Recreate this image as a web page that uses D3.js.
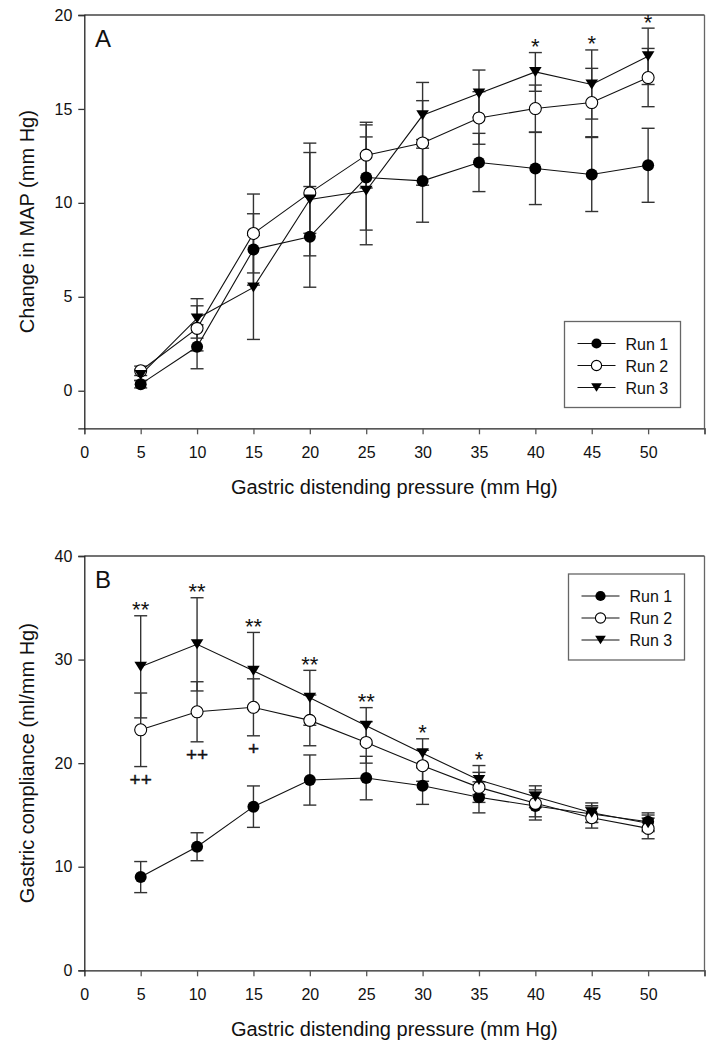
<!doctype html>
<html lang="en">
<head>
    <meta charset="UTF-8">
    <title>Gastric distension</title>
    <script src="https://cdnjs.cloudflare.com/ajax/libs/d3/7.8.5/d3.min.js"></script>
    <style>
        body { margin: 0; background: #fff; }
        svg text { font-family: "Liberation Sans", Arial, sans-serif; fill: #111; }
    </style>
</head>
<body>
<svg id="chart" width="725" height="1048"></svg>

<script>
    // x values shared by both panels
    var pressure = [5, 10, 15, 20, 25, 30, 35, 40, 45, 50];
    var seriesNames = ['Run 1', 'Run 2', 'Run 3'];

    // panel A: change in MAP (mean, SE)
    var map1 = [0.35, 2.34, 7.52, 8.19, 11.35, 11.17, 12.15, 11.83, 11.51, 12.0];
    var map1Err = [0.2, 1.17, 1.9, 2.68, 2.8, 2.2, 1.55, 1.92, 1.97, 1.97];
    var map2 = [1.06, 3.32, 8.37, 10.53, 12.54, 13.19, 14.52, 15.02, 15.34, 16.67];
    var map2Err = [0.25, 1.2, 2.1, 2.15, 1.75, 2.25, 1.4, 1.25, 1.82, 1.55];
    var map3 = [0.84, 3.85, 5.5, 10.18, 10.64, 14.66, 15.82, 16.97, 16.3, 17.8];
    var map3Err = [0.3, 1.05, 2.77, 3.0, 2.87, 1.75, 1.25, 1.03, 1.84, 1.5];
    var mapStars = ['', '', '', '', '', '', '', '*', '*', '*'];
    var mapPlus = ['', '', '', '', '', '', '', '', '', ''];
    var mapTicks = [0, 5, 10, 15, 20];

    // panel B: gastric compliance (mean, SE)
    var comp1 = [9.0, 11.93, 15.8, 18.37, 18.56, 17.82, 16.7, 15.86, 15.09, 14.35];
    var comp1Err = [1.5, 1.35, 2.0, 2.42, 2.1, 1.8, 1.5, 1.35, 0.8, 0.85];
    var comp2 = [23.22, 24.96, 25.39, 24.13, 22.0, 19.75, 17.66, 16.12, 14.73, 13.7];
    var comp2Err = [3.55, 2.9, 2.75, 2.45, 2.0, 1.5, 1.45, 1.3, 1.0, 1.0];
    var comp3 = [29.3, 31.47, 28.92, 26.31, 23.61, 20.95, 18.37, 16.76, 15.21, 14.19];
    var comp3Err = [4.93, 4.5, 3.7, 2.65, 1.75, 1.4, 1.4, 1.05, 0.95, 0.8];
    var compStars = ['**', '**', '**', '**', '**', '*', '*', '', '', ''];
    var compPlus = ['++', '++', '+', '', '', '', '', '', '', ''];
    var compTicks = [0, 10, 20, 30, 40];

    var xTicks = [0, 5, 10, 15, 20, 25, 30, 35, 40, 45, 50, 55];

    var svg = d3.select('#chart');

    var x = d3.scaleLinear().domain([0, 55]).range([84.3, 704.5]);

    function drawPanel(opt) {
        var g = svg.append('g');
        var y = d3.scaleLinear().domain(opt.yDomain).range([opt.bottom, opt.top]);

        // frame (top and right)
        g.append('line').attr('x1', x(0)).attr('x2', x(55)).attr('y1', opt.top).attr('y2', opt.top)
            .attr('stroke', '#444').attr('stroke-width', 1.3);
        g.append('line').attr('x1', x(55)).attr('x2', x(55)).attr('y1', opt.top).attr('y2', opt.bottom)
            .attr('stroke', '#666').attr('stroke-width', 1.3);

        var xAxis = g.append('g')
            .attr('transform', 'translate(0,' + opt.bottom + ')')
            .call(d3.axisBottom(x).tickValues(xTicks).tickSizeOuter(0).tickSize(6).tickPadding(12)
                .tickFormat(function (d) { return d === 55 ? '' : d; }));
        var yAxis = g.append('g')
            .attr('transform', 'translate(' + x(0) + ',0)')
            .call(d3.axisLeft(y).tickValues(opt.yTicks).tickSizeOuter(0).tickSize(6).tickPadding(6));

        [xAxis, yAxis].forEach(function (a) {
            a.selectAll('text').style('font-size', '16px').attr('fill', '#111');
            a.selectAll('line').attr('stroke', '#333').attr('stroke-width', 1.3);
            a.select('.domain').attr('stroke', '#222').attr('stroke-width', 1.3);
        });
        xAxis.selectAll('.tick line').attr('stroke', '#555');

        // titles
        g.append('text')
            .attr('x', 394.3).attr('y', opt.bottom + 66)
            .attr('text-anchor', 'middle').style('font-size', '20px')
            .text('Gastric distending pressure (mm Hg)');
        g.append('text')
            .attr('transform', 'translate(27,' + ((opt.top + opt.bottom) / 2) + ') rotate(-90)')
            .attr('dy', '0.35em')
            .attr('text-anchor', 'middle').style('font-size', '20px')
            .text(opt.yTitle);
        g.append('text')
            .attr('x', 95).attr('y', opt.top + 32)
            .style('font-size', '24px')
            .text(opt.letter);

        var series = opt.series.map(function (s, i) {
            return pressure.map(function (p, j) {
                return {x: p, y: s.values[j], e: s.err[j], k: i};
            });
        });

        // error bars
        series.forEach(function (pts) {
            var eb = g.append('g').attr('stroke', '#333').attr('stroke-width', 1.4);
            pts.forEach(function (d) {
                var cx = x(d.x), y0 = y(d.y - d.e), y1 = y(d.y + d.e);
                eb.append('line').attr('x1', cx).attr('x2', cx).attr('y1', y0).attr('y2', y1);
                eb.append('line').attr('x1', cx - 6.5).attr('x2', cx + 6.5).attr('y1', y0).attr('y2', y0);
                eb.append('line').attr('x1', cx - 6.5).attr('x2', cx + 6.5).attr('y1', y1).attr('y2', y1);
            });
        });

        // lines
        var line = d3.line().x(function (d) { return x(d.x); }).y(function (d) { return y(d.y); });
        series.forEach(function (pts) {
            g.append('path').datum(pts).attr('d', line)
                .attr('fill', 'none').attr('stroke', '#111').attr('stroke-width', 1.1);
        });

        // markers
        series.forEach(function (pts, i) {
            pts.forEach(function (d) {
                drawMarker(g, i, x(d.x), y(d.y), 1);
            });
        });

        // significance marks: stars above run 3, plus signs below run 2
        pressure.forEach(function (p, j) {
            if (opt.stars[j]) {
                var s3 = opt.series[2];
                g.append('text')
                    .attr('x', x(p)).attr('y', y(s3.values[j] + s3.err[j]) + 1.5)
                    .attr('text-anchor', 'middle').style('font-size', '22px')
                    .text(opt.stars[j]);
            }
            if (opt.plus[j]) {
                var s2 = opt.series[1];
                g.append('text')
                    .attr('x', x(p)).attr('y', y(s2.values[j] - s2.err[j]) + 19)
                    .attr('text-anchor', 'middle').style('font-size', '19px')
                    .attr('stroke', '#111').attr('stroke-width', 0.4)
                    .text(opt.plus[j]);
            }
        });

        // legend
        var lg = g.append('g').attr('transform', 'translate(' + opt.legend[0] + ',' + opt.legend[1] + ')');
        lg.append('rect').attr('width', 116).attr('height', 86)
            .attr('fill', '#fff').attr('stroke', '#666').attr('stroke-width', 1.3);
        seriesNames.forEach(function (name, i) {
            var ly = 22 + i * 22;
            lg.append('line').attr('x1', 13).attr('x2', 51).attr('y1', ly).attr('y2', ly)
                .attr('stroke', '#111').attr('stroke-width', 1.1);
            drawMarker(lg, i, 32, ly, 0.85);
            lg.append('text').attr('x', 61).attr('y', ly + 6).style('font-size', '16px').text(name);
        });
    }

    function drawMarker(g, kind, cx, cy, s) {
        if (kind === 0) {
            g.append('circle').attr('cx', cx).attr('cy', cy).attr('r', 6 * s).attr('fill', '#000');
        } else if (kind === 1) {
            g.append('circle').attr('cx', cx).attr('cy', cy).attr('r', 6 * s)
                .attr('fill', '#fff').attr('stroke', '#000').attr('stroke-width', 1.1);
        } else {
            var w = 6.3 * s, h = 5 * s;
            g.append('path')
                .attr('d', 'M' + (cx - w) + ',' + (cy - h) + 'L' + (cx + w) + ',' + (cy - h) + 'L' + cx + ',' + (cy + h) + 'Z')
                .attr('fill', '#000');
        }
    }

    drawPanel({
        top: 15, bottom: 428.3, yDomain: [-2, 20], yTicks: mapTicks,
        yTitle: 'Change in MAP (mm Hg)', letter: 'A',
        series: [
            {values: map1, err: map1Err},
            {values: map2, err: map2Err},
            {values: map3, err: map3Err}
        ],
        stars: mapStars, plus: mapPlus,
        legend: [564.5, 321.5]
    });

    drawPanel({
        top: 556, bottom: 970.3, yDomain: [0, 40], yTicks: compTicks,
        yTitle: 'Gastric compliance (ml/mm Hg)', letter: 'B',
        series: [
            {values: comp1, err: comp1Err},
            {values: comp2, err: comp2Err},
            {values: comp3, err: comp3Err}
        ],
        stars: compStars, plus: compPlus,
        legend: [568.5, 574]
    });
</script>
</body>
</html>
